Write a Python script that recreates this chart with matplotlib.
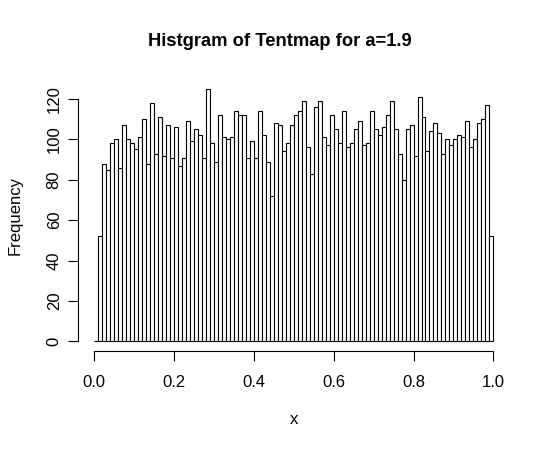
import numpy as np
import matplotlib
matplotlib.use('Agg')
import matplotlib.pyplot as plt

plt.rcParams['font.family'] = ['Liberation Sans', 'DejaVu Sans']

# Counts per bin (100 bins of width 0.01 on [0, 1])
counts = [0, 52, 88, 85, 98, 100, 86, 107, 100, 98,
          95, 101, 110, 88, 118, 93, 111, 92, 107, 91,
          106, 87, 91, 109, 99, 105, 102, 91, 125, 98,
          89, 112, 101, 100, 101, 114, 112, 112, 91, 99,
          91, 114, 102, 89, 72, 108, 107, 94, 98, 107,
          112, 114, 119, 96, 83, 116, 119, 101, 97, 112,
          105, 98, 114, 96, 98, 105, 109, 97, 98, 114,
          105, 102, 106, 112, 119, 105, 93, 80, 105, 107,
          92, 121, 111, 94, 104, 108, 103, 93, 100, 97,
          100, 102, 101, 109, 96, 100, 108, 110, 117, 52]
bin_width = 0.01
x_ticks = [0.0, 0.2, 0.4, 0.6, 0.8, 1.0]
x_tick_labels = ['0.0', '0.2', '0.4', '0.6', '0.8', '1.0']
y_ticks = [0, 20, 40, 60, 80, 100, 120]

lefts = np.arange(len(counts)) * bin_width

fig = plt.figure(figsize=(5.5, 4.5), dpi=100)
ax = fig.add_axes([0.1424, 0.2191, 0.7836, 0.6058])

ax.bar(lefts, counts, width=bin_width, align='edge', color='white',
       edgecolor='black', linewidth=0.8)

ax.set_xlim(-0.04, 1.04)
ax.set_ylim(-5, 130)

for side in ['top', 'right']:
    ax.spines[side].set_visible(False)
ax.spines['left'].set_bounds(0, 120)
ax.spines['bottom'].set_bounds(0, 1)
for side in ['left', 'bottom']:
    ax.spines[side].set_linewidth(0.8)

ax.set_xticks(x_ticks)
ax.set_xticklabels(x_tick_labels)
ax.set_yticks(y_ticks)
ax.set_yticklabels([str(v) for v in y_ticks], rotation=90, va='center')
ax.tick_params(axis='both', length=7, width=0.8, labelsize=12)
ax.tick_params(axis='x', pad=10)
ax.tick_params(axis='y', pad=5)

fig.text(279.7 / 550, 1 - 41 / 450, 'Histgram of Tentmap for a=1.9',
         ha='center', va='center', fontsize=13.2, fontweight='bold')
fig.text(294 / 550, 1 - 420 / 450, 'x', ha='center', va='center', fontsize=12)
fig.text(15 / 550, 1 - 215 / 450, 'Frequency', ha='center', va='center',
         rotation=90, fontsize=12)

plt.savefig('out.png', dpi=100)
plt.close()
